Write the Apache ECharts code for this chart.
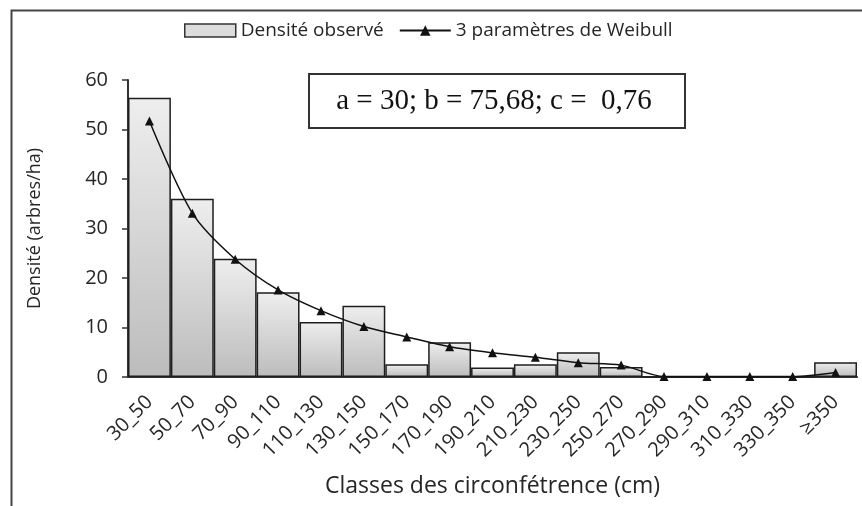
<!DOCTYPE html>
<html>
<head>
<meta charset="utf-8">
<script src="https://cdn.jsdelivr.net/npm/echarts@6/dist/echarts.min.js"></script>
<style>
  html, body { margin: 0; padding: 0; background: #fff; }
  #chart { width: 862px; height: 506px; }
</style>
</head>
<body>
<div id="chart"></div>
<script>
// classes de circonférence
var categories = ['30_50', '50_70', '70_90', '90_110', '110_130', '130_150', '150_170', '170_190',
  '190_210', '210_230', '230_250', '250_270', '270_290', '290_310', '310_330', '330_350', '≥350'];
// densité observée (arbres/ha)
var observed = [56.4, 36.0, 23.9, 17.1, 11.1, 14.4, 2.6, 7.0, 1.9, 2.6, 5.0, 2.0, 0, 0, 0, 0, 3.0];
// ajustement Weibull 3 paramètres
var weibull = [51.7, 33.1, 23.8, 17.6, 13.4, 10.2, 8.1, 6.1, 4.9, 4.0, 2.9, 2.4, 0.1, 0.1, 0.1, 0.1, 0.9];
var yTicks = { min: 0, max: 60, interval: 10 };
var paramText = 'a = 30; b = 75,68; c =  0,76';

var textColor = '#262626';
var font = 'Open Sans';

var chart = echarts.init(document.getElementById('chart'));
chart.setOption({
  backgroundColor: '#fff',
  animation: false,
  textStyle: { fontFamily: font, color: textColor },
  legend: {
    top: 16,
    left: 179,
    itemWidth: 51,
    itemHeight: 13,
    itemGap: 15,
    textStyle: { fontSize: 19, color: textColor, fontFamily: font },
    data: [
      { name: 'Densité observé', icon: 'rect', itemStyle: { color: '#dcdcdc', borderColor: '#333', borderWidth: 1.5 } },
      { name: '3 paramètres de Weibull' }
    ]
  },
  grid: { left: 128, right: 5, top: 80, bottom: 129 },
  xAxis: {
    type: 'category',
    data: categories,
    boundaryGap: true,
    name: 'Classes des circonfétrence (cm)',
    nameLocation: 'middle',
    nameGap: 98,
    nameTextStyle: { fontSize: 23, color: textColor },
    axisLine: { lineStyle: { color: '#333', width: 2 } },
    axisTick: { alignWithLabel: true, length: 6, lineStyle: { color: '#333', width: 1.5 } },
    axisLabel: { rotate: 45, interval: 0, fontSize: 20, color: textColor, margin: 22 },
    splitLine: { show: false }
  },
  yAxis: {
    type: 'value',
    min: yTicks.min,
    max: yTicks.max,
    interval: yTicks.interval,
    name: 'Densité (arbres/ha)',
    nameLocation: 'middle',
    nameGap: 84,
    nameTextStyle: { fontSize: 18, color: textColor },
    axisLine: { show: true, lineStyle: { color: '#333', width: 2 } },
    axisTick: { show: true, length: 6, lineStyle: { color: '#333', width: 1.5 } },
    axisLabel: { fontSize: 20, color: textColor, margin: 20 },
    splitLine: { show: false }
  },
  series: [
    {
      name: 'Densité observé',
      type: 'bar',
      data: observed,
      barCategoryGap: '0%',
      itemStyle: {
        color: new echarts.graphic.LinearGradient(0, 0, 0, 1, [
          { offset: 0, color: '#eeeeee' },
          { offset: 1, color: '#bcbcbc' }
        ]),
        borderColor: '#1e1e1e',
        borderWidth: 1.5
      }
    },
    {
      name: '3 paramètres de Weibull',
      type: 'line',
      data: weibull,
      smooth: 0.3,
      symbol: 'triangle',
      symbolSize: 9,
      lineStyle: { color: '#111', width: 1.5 },
      itemStyle: { color: '#111' }
    }
  ],
  graphic: [
    {
      type: 'rect',
      left: 9, top: 8,
      shape: { width: 900, height: 600 },
      style: { fill: 'none', stroke: '#444', lineWidth: 2 },
      silent: true
    },
    {
      type: 'group',
      left: 308, top: 73,
      children: [
        {
          type: 'rect',
          shape: { width: 376, height: 54 },
          style: { fill: '#fff', stroke: '#333', lineWidth: 2 }
        },
        {
          type: 'text',
          x: 185, y: 27,
          style: {
            text: paramText,
            font: '29px "Liberation Serif"',
            fill: '#111',
            textAlign: 'center',
            textVerticalAlign: 'middle'
          }
        }
      ]
    }
  ]
});
</script>
</body>
</html>
